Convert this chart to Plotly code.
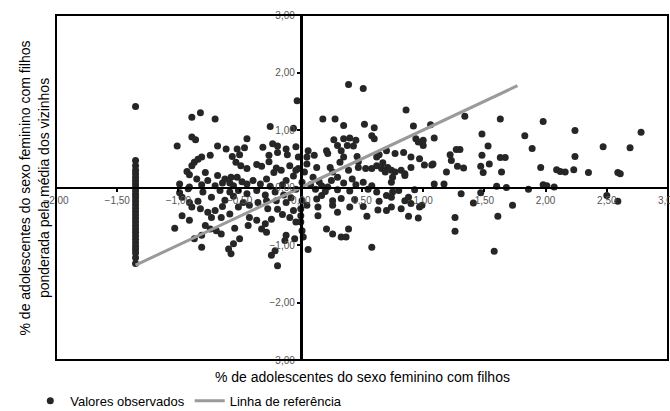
import plotly.graph_objects as go

# Vertical stack of observations at x = -1.35
column_x = -1.35
column_y = [1.41, 0.47, 0.38, 0.30, 0.24, 0.18, 0.12, 0.06, 0.00, -0.06, -0.12, -0.18,
            -0.24, -0.30, -0.36, -0.42, -0.48, -0.54, -0.60, -0.66, -0.72, -0.78, -0.84,
            -0.90, -0.96, -1.02, -1.08, -1.14, -1.22, -1.32]

scatter_x = [
    -0.03, -0.89, -0.82, -0.70, -0.25, -0.06, -0.89, -0.86, -1.01, -0.44, -0.68, -0.61, -0.52, -0.46,
    -0.31, -0.23, -0.19, -0.12, -0.04, -0.50, -0.56, -0.74, -0.81, -0.84, -0.87, -0.26, -0.19, -0.11,
    -0.02, -0.53, -0.49, -0.44, -0.36, -0.32, -0.26, -0.20, -0.22, -0.89, -0.93, -0.91, -0.78, -0.68,
    -0.62, -0.57, -0.52, -0.64, -0.58, -0.39, -0.33, -0.44, -0.09, -0.04, -0.16, -0.99, -0.91, -0.81,
    -0.70, -0.48, -0.28, -0.12, -0.06, -0.76, -0.85, -0.55, -0.25, -0.15,
    -0.99, -0.92, -0.80, -0.73, -0.66, -0.58, -0.51, -0.44, -0.29, -0.21, -0.14, -0.04, -0.91, -0.84,
    -0.89, -0.82, -0.97, -0.91, -0.76, -0.70, -0.73, -0.65, -0.58, -0.51, -0.47, -0.42, -0.35, -0.28,
    -0.20, -0.12, -0.27, -0.19, -0.09, -0.42, -0.43, -0.36, -0.24, -0.29, -1.03, -0.87, -0.81, -0.74,
    -0.78, -0.69, -0.81, -0.65, -0.54, -0.50, -0.55, -0.59, -0.57, -0.32, -0.28, -0.12, -0.13, -0.05,
    -0.21, -0.24, -0.19, -0.04, 0.01, 0.02, -0.97, -0.62, -0.55, -0.36, -0.08, -0.64, -0.06, -0.15,
    0.39, 0.51, 0.86, 0.18, 0.28, 0.35, 0.52, 0.60, 0.92, 1.06, 0.27, 0.30, 0.35, 0.40, 0.45, 0.43,
    0.38, 0.58, 0.60, 0.21, 0.22, 0.33, 0.35, 0.32, 0.46, 0.47, 0.24, 0.26, 0.30, 0.39, 0.47, 0.51,
    0.06, 0.11, 0.05, -0.02, 0.05, 0.13, 0.03, 0.10, 0.01, 0.17, 0.22, 0.62, 0.64, 0.70, 0.77, 0.84,
    0.90, 0.97, 1.01, 1.07, 1.00, 1.00, 1.09, 0.94, 0.96, 0.67, 0.62, 0.53, 0.58, 0.66, 0.71, 0.74,
    0.77, 0.69, 0.82, 0.90, 0.75, 0.85, 1.19, 1.22, 1.23, 1.09, 1.17, 0.58, 0.74,
    0.15, 0.08, 0.25, 0.35, 0.42, 0.45,
    1.34, 1.63, 1.98, 2.24, 2.78, 1.83, 1.48, 1.53, 1.89, 2.47, 2.69, 2.24, 1.48, 1.63, 1.67, 1.27,
    1.30, 1.28, 1.33, 1.47, 1.54, 1.49, 1.64, 1.96, 2.09, 2.12, 2.16, 2.23, 2.35, 2.59, 2.61, 1.60,
    1.68, 1.86, 1.98, 2.01, 2.07, 2.50, 2.59, 1.31, 1.47, 1.41, 1.73, 0.85, 1.08,
    0.26, 0.30, 0.40, 0.51, 0.54, 0.63, 0.70, 0.74, 0.82, 0.88, 0.96, 0.90, 0.97, 1.26, 1.26, 1.61,
    1.58, 0.26, 0.33, 0.37, 0.39, 0.58, 0.01, 0.00, 0.00, 0.00, 0.06, 0.05, 0.13, 0.17, 0.14, 0.14,
    0.21, 0.26, 0.33, 0.44, 0.64, 0.70, 0.75, 0.74, 0.85, 0.88, 0.99,
    0.12, 0.20, 0.55, 0.62, 0.80, 0.93, 0.40, 0.30,
]
scatter_y = [
    1.51, 1.22, 1.30, 1.19, 1.06, 1.03, 0.88, 0.83, 0.72, 0.85, 0.72, 0.67, 0.67, 0.69,
    0.70, 0.76, 0.72, 0.67, 0.71, 0.57, 0.54, 0.56, 0.53, 0.49, 0.44, 0.56, 0.61, 0.57,
    0.53, 0.44, 0.38, 0.33, 0.40, 0.37, 0.45, 0.34, 0.26, 0.38, 0.28, 0.22, 0.26, 0.21,
    0.15, 0.18, 0.18, 0.08, 0.08, 0.12, 0.06, 0.06, 0.38, 0.30, 0.30, 0.06, 0.01, 0.05,
    0.03, 0.10, 0.15, 0.12, 0.20, 0.12, 0.15, 0.03, 0.02, 0.05,
    -0.09, -0.02, -0.08, -0.17, -0.05, -0.08, -0.05, -0.11, -0.13, -0.08, -0.13, -0.03, -0.26, -0.24,
    -0.34, -0.37, -0.49, -0.57, -0.43, -0.40, -0.52, -0.52, -0.46, -0.34, -0.26, -0.31, -0.26, -0.23,
    -0.23, -0.26, -0.37, -0.38, -0.52, -0.52, -0.66, -0.57, -0.55, -0.63, -0.71, -0.89, -0.83, -0.72,
    -0.66, -0.75, -1.04, -0.81, -0.71, -0.89, -0.98, -1.07, -1.15, -0.72, -0.78, -0.83, -0.92, -0.89,
    -1.10, -1.18, -1.36, -0.60, -0.75, -0.86, -0.17, -0.22, -0.15, -0.05, -0.18, -0.33, -0.40, -0.47,
    1.79, 1.72, 1.35, 1.19, 1.19, 1.08, 1.10, 1.04, 1.07, 1.09, 0.83, 0.73, 0.85, 0.86, 0.82, 0.72,
    0.73, 0.90, 0.85, 0.64, 0.59, 0.64, 0.53, 0.44, 0.54, 0.45, 0.35, 0.27, 0.18, 0.30, 0.35, 0.09,
    0.64, 0.56, 0.53, 0.33, 0.41, 0.35, 0.27, 0.18, 0.09, 0.03, 0.01, 0.53, 0.57, 0.64, 0.59, 0.61,
    0.53, 0.50, 0.39, 0.39, 0.73, 0.82, 0.86, 0.85, 0.79, 0.43, 0.38, 0.33, 0.33, 0.33, 0.35, 0.30,
    0.27, 0.27, 0.30, 0.35, 0.18, 0.21, 0.27, 0.57, 0.47, 0.06, 0.06, 0.03, 0.09,
    0.10, 0.05, 0.12, 0.08, 0.15, 0.05,
    1.24, 1.19, 1.15, 0.99, 0.96, 0.90, 0.93, 0.72, 0.68, 0.71, 0.69, 0.54, 0.56, 0.52, 0.52, 0.66,
    0.66, 0.37, 0.34, 0.37, 0.41, 0.26, 0.27, 0.35, 0.31, 0.28, 0.27, 0.31, 0.26, 0.26, 0.24, 0.02,
    0.00, -0.03, 0.05, 0.03, 0.01, -0.14, -0.24, -0.11, -0.09, -0.27, -0.31, 0.24, 0.41,
    -0.31, -0.43, -0.34, -0.33, -0.50, -0.39, -0.40, -0.34, -0.37, -0.50, -0.53, -0.28, -0.34, -0.52, -0.76, -0.50,
    -1.11, -0.81, -0.86, -0.86, -0.72, -1.04, -0.23, -0.37, -0.49, -0.60, -1.08, -0.31, -0.20, -0.14, -0.34, -0.49,
    -0.72, -0.23, -0.19, -0.21, -0.24, -0.14, -0.08, -0.17, -0.23, -0.17, -0.31,
    -0.03, -0.07, -0.03, -0.08, -0.05, -0.04, -0.06, -0.04,
]

# Reference line (y = x)
ref_x = [-1.35, 1.77]
ref_y = [-1.35, 1.77]

x_ticks = [-2.0, -1.5, -1.0, -0.5, 0.0, 0.5, 1.0, 1.5, 2.0, 2.5, 3.0]
y_ticks = [-3.0, -2.0, -1.0, 0.0, 1.0, 2.0, 3.0]

x_title = "% de adolescentes do sexo feminino com filhos"
y_title = "% de adolescentes do sexo feminino com filhos<br>ponderada pela média dos vizinhos"

FONT = "Liberation Sans, Arial, sans-serif"
TICK_FONT = dict(family=FONT, size=10, color="#555555")

obs_x = [column_x] * len(column_y) + scatter_x
obs_y = column_y + scatter_y

fig = go.Figure()
fig.add_trace(go.Scatter(
    x=obs_x, y=obs_y, mode="markers", name="Valores observados",
    marker=dict(color="#262626", size=7, line=dict(width=0)),
))
fig.add_trace(go.Scatter(
    x=ref_x, y=ref_y, mode="lines", name="Linha de referência",
    line=dict(color="#9a9a9a", width=3),
))

axis_common = dict(
    showgrid=False, zeroline=False, showline=True, linecolor="black",
    ticks="outside", ticklen=3, tickwidth=2, tickcolor="black",
    tickfont=TICK_FONT, tickformat=".2f", anchor="free",
)

# last x tick label (clipped by the page edge, as in the original)
last_x = x_ticks[-1]
edge_label = dict(text=f"{last_x:.2f}".replace(".", ","), xref="x", yref="y",
                  x=last_x, y=0, yshift=-13, xanchor="center", yanchor="middle",
                  showarrow=False, font=TICK_FONT)

fig.update_layout(
    width=670, height=411,
    margin=dict(l=56, r=2, t=15, b=51, autoexpand=False),
    paper_bgcolor="white", plot_bgcolor="white",
    separators=",.",
    font=dict(family=FONT, color="black"),
    xaxis=dict(range=[-2, 3], tickvals=x_ticks, position=0.5, linewidth=2, **axis_common),
    yaxis=dict(range=[-3, 3], tickvals=y_ticks, position=0.4, linewidth=3, **axis_common),
    showlegend=True,
    legend=dict(orientation="h", x=-0.042, xanchor="left", y=-0.162, yanchor="bottom",
                font=dict(family=FONT, size=13, color="black"),
                bgcolor="rgba(0,0,0,0)", itemwidth=30),
    shapes=[dict(type="rect", xref="paper", yref="paper", x0=0, x1=1, y0=0, y1=1,
                 line=dict(color="black", width=2), layer="above")],
    annotations=[
        dict(text=x_title, xref="paper", yref="paper", x=0.5, y=-0.048,
             xanchor="center", yanchor="middle", showarrow=False,
             font=dict(family=FONT, size=14, color="black")),
        dict(text=y_title, xref="paper", yref="paper", x=-0.036, y=0.5,
             xanchor="center", yanchor="middle", showarrow=False, textangle=-90,
             font=dict(family=FONT, size=14, color="black")),
        edge_label,
    ],
)

fig.write_html("out.html")
